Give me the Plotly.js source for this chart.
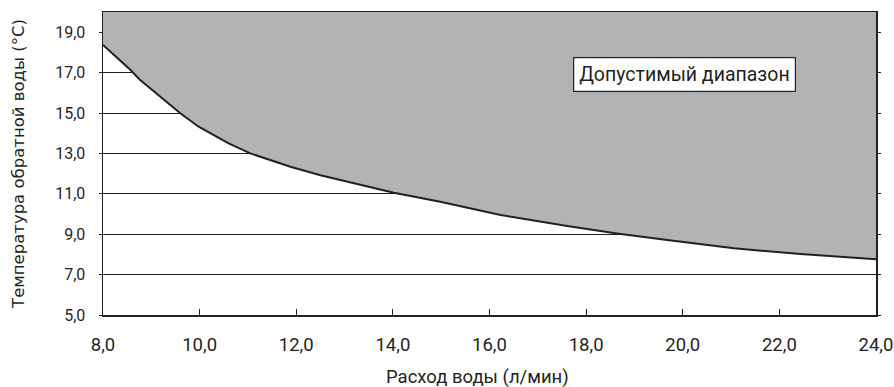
<!DOCTYPE html>
<html>
<head>
<meta charset="utf-8">
<script src="https://cdn.plot.ly/plotly-3.0.1.min.js"></script>
<style>html,body{margin:0;padding:0;background:#fff}#chart{width:894px;height:387px}</style>
</head>
<body>
<div id="chart"></div>
<script>
// Curve: lower limit of the allowed return-water temperature
const flowRate = [8.0, 8.57, 8.77, 9.39, 9.60, 9.98, 10.60, 11.05, 11.88, 12.50, 13.26, 14.02, 14.98, 16.23, 17.61, 18.64, 19.68, 21.06, 22.44, 24.0];
const minTemp  = [18.37, 17.13, 16.63, 15.40, 14.99, 14.32, 13.50, 13.0, 12.34, 11.92, 11.49, 11.05, 10.61, 9.95, 9.41, 9.04, 8.71, 8.30, 8.02, 7.76];
const yTop = 20;
const xTickVals = [8, 10, 12, 14, 16, 18, 20, 22, 24];
const xTickText = ["8,0", "10,0", "12,0", "14,0", "16,0", "18,0", "20,0", "22,0", "24,0"];
const yTickVals = [5, 7, 9, 11, 13, 15, 17, 19];
const yTickText = ["5,0", "7,0", "9,0", "11,0", "13,0", "15,0", "17,0", "19,0"];
const regionLabel = "Допустимый диапазон";
const regionPos = [20.03, 16.93];
const xTitle = "Расход воды (л/мин)";
const yTitle = "Температура обратной воды (°C)";

const ink = "#231f20";
const font = "Roboto, Open Sans, sans-serif";

const traces = [
  { x: flowRate, y: flowRate.map(() => yTop), mode: "lines", line: {width: 0, color: "rgba(0,0,0,0)"}, hoverinfo: "skip", showlegend: false },
  { x: flowRate, y: minTemp, mode: "lines", fill: "tonexty", fillcolor: "#b2b3b5", line: {color: ink, width: 2}, showlegend: false }
];

const layout = {
  width: 894, height: 387,
  margin: {l: 103, r: 18, t: 12, b: 72},
  paper_bgcolor: "#fff", plot_bgcolor: "#fff",
  font: {family: font, size: 14, color: ink},
  showlegend: false,
  xaxis: {
    range: [8, 24], tickvals: xTickVals, ticktext: xTickText,
    ticks: "inside", ticklen: 6, tickcolor: ink, tickwidth: 1,
    showgrid: false, zeroline: false,
    showline: true, linecolor: ink, linewidth: 1.5, mirror: true,
    ticklabelstandoff: 12,
    tickfont: {family: font, size: 18.5, color: ink}
  },
  yaxis: {
    range: [5, yTop], tickvals: yTickVals, ticktext: yTickText,
    ticks: "outside", ticklen: 3, tickcolor: ink, tickwidth: 1,
    showgrid: true, gridcolor: ink, gridwidth: 1, zeroline: false,
    showline: true, linecolor: ink, linewidth: 1.5, mirror: "ticks",
    ticklabelstandoff: 10,
    tickfont: {family: font, size: 16, color: ink},
    title: {text: yTitle, font: {family: "DejaVu Sans, Liberation Sans, sans-serif", size: 16.5, color: ink}, standoff: 26}
  },
  annotations: [
    {
      x: regionPos[0], y: regionPos[1], xref: "x", yref: "y",
      text: regionLabel, showarrow: false,
      font: {family: font, size: 19.5, color: ink},
      bgcolor: "#fff", bordercolor: ink, borderwidth: 1.2, borderpad: 5
    },
    {
      x: 0.485, y: 0, xref: "paper", yref: "paper", yanchor: "middle", yshift: -62,
      text: xTitle, showarrow: false,
      font: {family: font, size: 18.5, color: ink}
    }
  ]
};

Plotly.newPlot("chart", traces, layout, {displayModeBar: false, staticPlot: true});
</script>
</body>
</html>
